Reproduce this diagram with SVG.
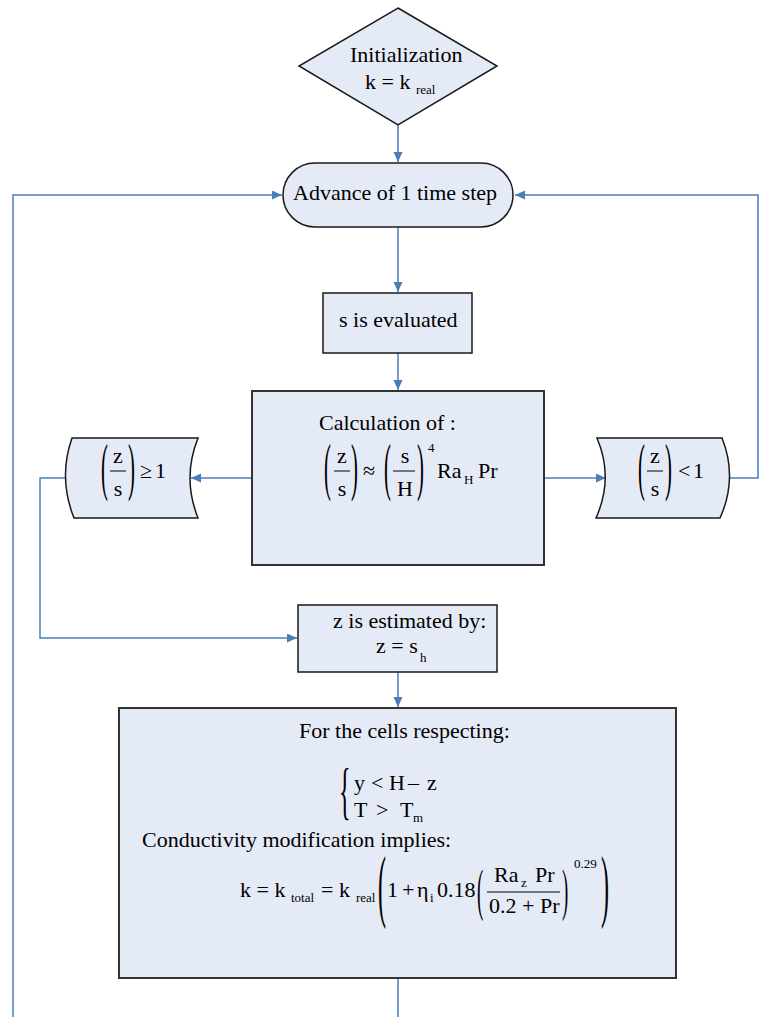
<svg xmlns="http://www.w3.org/2000/svg" width="759" height="1017" viewBox="0 0 759 1017">
<style>
.shape{fill:#E5EBF6;stroke:#1a1a1a;stroke-width:1.5}
.box2{fill:#E5EBF6;stroke:#333;stroke-width:2}
.conn{fill:none;stroke:#4A7EBB;stroke-width:1.5}
.t{font-family:"Liberation Serif","Times New Roman",serif;font-size:22px;fill:#000}
.s{font-family:"Liberation Serif","Times New Roman",serif;font-size:13px;fill:#000}
.par{font-family:"Liberation Serif","Times New Roman",serif;fill:#000}
.bar{stroke:#000;stroke-width:1}
</style>
<defs>
<marker id="arr" markerUnits="userSpaceOnUse" markerWidth="11" markerHeight="10" refX="10" refY="4.5" orient="auto">
<path d="M0,0 L10,4.5 L0,9 z" fill="#4A7EBB"/>
</marker>
</defs>

<g id="connectors">
<path class="conn" d="M398,125 V162" marker-end="url(#arr)"/>
<path class="conn" d="M398,227 V292" marker-end="url(#arr)"/>
<path class="conn" d="M398,353 V390" marker-end="url(#arr)"/>
<path class="conn" d="M252,478 H191" marker-end="url(#arr)"/>
<path class="conn" d="M544,478 H606" marker-end="url(#arr)"/>
<path class="conn" d="M66,478 H40 V638 H297" marker-end="url(#arr)"/>
<path class="conn" d="M398,672 V707" marker-end="url(#arr)"/>
<path class="conn" d="M398,978 V1017"/>
<path class="conn" d="M13,1017 V195 H282" marker-end="url(#arr)"/>
<path class="conn" d="M730,478 H758 V195 H515" marker-end="url(#arr)"/>
</g>

<g id="init">
<polygon class="shape" points="398,8 497,66 398,125 299,66"/>
<text class="t" x="350" y="62">Initialization</text>
<text class="t" x="365" y="89">k = k</text>
<text class="s" x="416" y="94">real</text>
</g>

<g id="advance">
<rect class="shape" x="283" y="163" width="230" height="64" rx="32" ry="32"/>
<text class="t" x="293" y="200">Advance of 1 time step</text>
</g>

<g id="s-eval">
<rect class="shape" x="323" y="293" width="149" height="60"/>
<text class="t" x="339" y="327">s is evaluated</text>
</g>

<g id="calc">
<rect class="box2" x="252" y="391" width="292" height="174"/>
<text class="t" x="319" y="430">Calculation of :</text>
<text class="par" font-size="63" transform="translate(324,488) scale(0.33,1)">(</text>
<text class="t" x="342" y="463" text-anchor="middle">z</text>
<line class="bar" x1="334" y1="471" x2="350" y2="471"/>
<text class="t" x="342" y="496" text-anchor="middle">s</text>
<text class="par" font-size="63" transform="translate(351,488) scale(0.33,1)">)</text>
<text class="t" x="363" y="478">≈</text>
<text class="par" font-size="63" transform="translate(384,488) scale(0.33,1)">(</text>
<text class="t" x="405" y="463" text-anchor="middle">s</text>
<line class="bar" x1="393" y1="471" x2="415" y2="471"/>
<text class="t" x="405" y="496" text-anchor="middle">H</text>
<text class="par" font-size="63" transform="translate(417,488) scale(0.33,1)">)</text>
<text class="s" x="428" y="452">4</text>
<text class="t" x="437" y="478">Ra</text>
<text class="s" x="464" y="484">H</text>
<text class="t" x="478" y="478">Pr</text>
</g>

<g id="ge1">
<path class="shape" d="M72,438 H198 Q182,478 198,518 H74 Q58,478 72,438 Z"/>
<text class="par" font-size="63" transform="translate(101,488) scale(0.33,1)">(</text>
<text class="t" x="118" y="463" text-anchor="middle">z</text>
<line class="bar" x1="110" y1="471" x2="126" y2="471"/>
<text class="t" x="118" y="496" text-anchor="middle">s</text>
<text class="par" font-size="63" transform="translate(128,488) scale(0.33,1)">)</text>
<text class="t" x="140" y="478">≥<tspan x="155">1</tspan></text>
</g>

<g id="lt1">
<path class="shape" d="M597,438 H722 Q738,478 720,518 H596 Q614,478 597,438 Z"/>
<text class="par" font-size="63" transform="translate(638,488) scale(0.33,1)">(</text>
<text class="t" x="655" y="463" text-anchor="middle">z</text>
<line class="bar" x1="647" y1="471" x2="663" y2="471"/>
<text class="t" x="655" y="496" text-anchor="middle">s</text>
<text class="par" font-size="63" transform="translate(665,488) scale(0.33,1)">)</text>
<text class="t" x="678" y="478">&lt;<tspan x="693">1</tspan></text>
</g>

<g id="z-est">
<rect class="shape" x="298" y="605" width="199" height="67"/>
<text class="t" x="333" y="628">z is estimated by:</text>
<text class="t" x="376" y="653">z = s</text>
<text class="s" x="420" y="662">h</text>
</g>

<g id="cells">
<rect class="box2" x="119" y="708" width="557" height="270"/>
<text class="t" x="299" y="738">For the cells respecting:</text>
<text class="par" font-size="64" transform="translate(339,812) scale(0.38,1)">{</text>
<text class="t" y="790"><tspan x="354">y</tspan><tspan x="371">&lt;</tspan><tspan x="389">H</tspan><tspan x="408">–</tspan><tspan x="427">z</tspan></text>
<text class="t" y="817"><tspan x="354">T</tspan><tspan x="376">&gt;</tspan><tspan x="400">T</tspan></text>
<text class="s" x="413" y="822">m</text>
<text class="t" x="142" y="847">Conductivity modification implies:</text>
<text class="t" x="240" y="897">k = k</text>
<text class="s" x="291" y="902">total</text>
<text class="t" x="321" y="897">= k</text>
<text class="s" x="356" y="902">real</text>
<text class="par" font-size="80" transform="translate(378,912) scale(0.3,1)">(</text>
<text class="t" y="897"><tspan x="387">1</tspan><tspan x="402">+</tspan><tspan x="417">η</tspan></text>
<text class="s" x="430" y="902">i</text>
<text class="t" x="437" y="897">0.18</text>
<text class="par" font-size="57" transform="translate(477,909) scale(0.33,1)">(</text>
<text class="t" x="494" y="882">Ra</text>
<text class="s" x="521" y="887">z</text>
<text class="t" x="535" y="882">Pr</text>
<line class="bar" x1="487" y1="892" x2="560" y2="892"/>
<text class="t" x="489" y="913">0.2 + Pr</text>
<text class="par" font-size="57" transform="translate(562,909) scale(0.33,1)">)</text>
<text class="s" x="574" y="868">0.29</text>
<text class="par" font-size="80" transform="translate(601,912) scale(0.3,1)">)</text>
</g>
</svg>
